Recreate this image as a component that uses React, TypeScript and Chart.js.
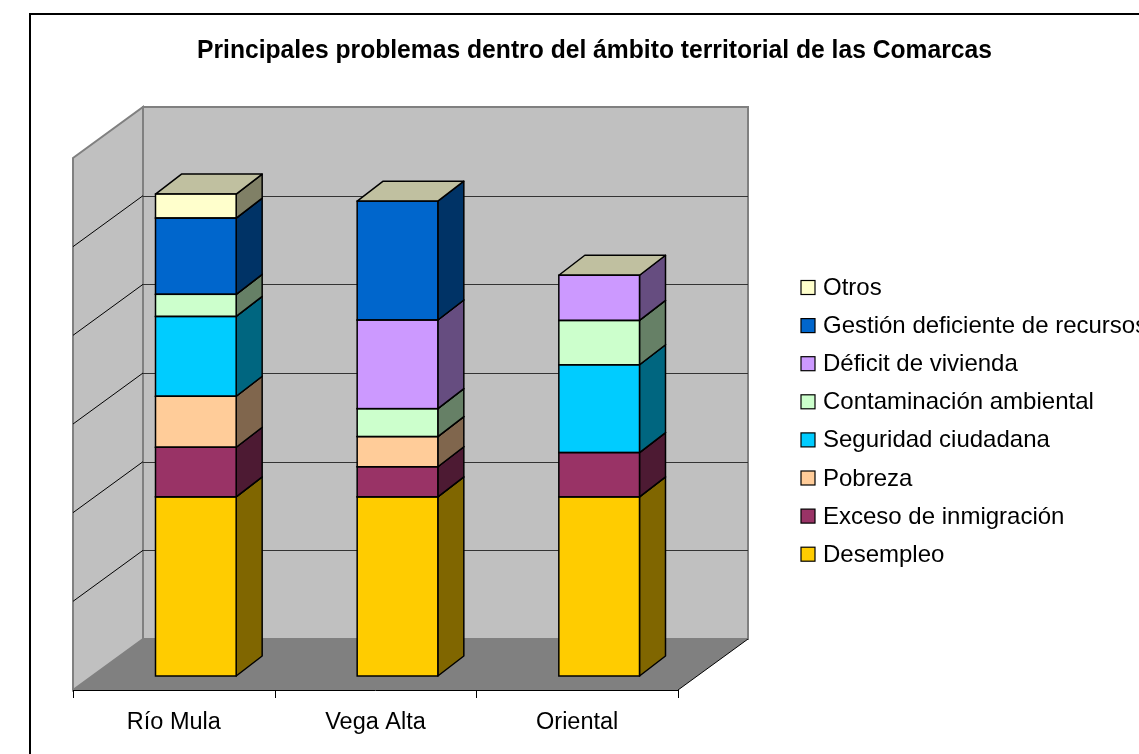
import React, { useEffect, useRef } from "react";
import { Chart, registerables } from "chart.js";

Chart.register(...registerables);

// ---------- data ----------
const categories = ["Río Mula", "Vega Alta", "Oriental"];
const seriesNames = [
  "Desempleo",
  "Exceso de inmigración",
  "Pobreza",
  "Seguridad ciudadana",
  "Contaminación ambiental",
  "Déficit de vivienda",
  "Gestión deficiente de recursos",
  "Otros",
];
const desempleo = [20.2, 20.2, 20.2];
const excesoInmigracion = [5.6, 3.4, 5.0];
const pobreza = [5.75, 3.4, 0];
const seguridadCiudadana = [9.0, 0, 9.9];
const contaminacionAmbiental = [2.5, 3.15, 5.0];
const deficitVivienda = [0, 10.0, 5.1];
const gestionRecursos = [8.6, 13.4, 0];
const otros = [2.7, 0, 0];
const seriesValues = [
  desempleo,
  excesoInmigracion,
  pobreza,
  seguridadCiudadana,
  contaminacionAmbiental,
  deficitVivienda,
  gestionRecursos,
  otros,
];
const frontColors = [
  "#FFCC00",
  "#993366",
  "#FFCC99",
  "#00CCFF",
  "#CCFFCC",
  "#CC99FF",
  "#0066CC",
  "#FFFFCC",
];
const chartTitle = "Principales problemas dentro del ámbito territorial de las Comarcas";
const yMax = 60;
const gridStep = 10;

// ---------- style constants ----------
const FONT = "'Liberation Sans', Arial, Helvetica, sans-serif";
const BAR_DX = 26;
const BAR_DY = 20;
const SHIFT_X = 22;
const SHIFT_Y = 14;
const WALL_DX = 70;
const WALL_DY = 51;
const TOP_COLOR = "#C0C0A0";

function halve(hex: string): string {
  const n = parseInt(hex.slice(1), 16);
  const r = Math.round(((n >> 16) & 255) / 2);
  const g = Math.round(((n >> 8) & 255) / 2);
  const b = Math.round((n & 255) / 2);
  return `rgb(${r},${g},${b})`;
}

function poly(ctx: CanvasRenderingContext2D, pts: number[][]) {
  ctx.beginPath();
  ctx.moveTo(pts[0][0], pts[0][1]);
  for (let i = 1; i < pts.length; i++) ctx.lineTo(pts[i][0], pts[i][1]);
  ctx.closePath();
}

const scenePlugin = {
  id: "scene3d",
  beforeDraw(chart: any) {
    const { ctx, chartArea } = chart;
    const xs = chart.scales.x;
    const ys = chart.scales.y;
    ctx.save();
    ctx.fillStyle = "#ffffff";
    ctx.fillRect(0, 0, chart.width, chart.height);

    // outer border
    ctx.strokeStyle = "#000";
    ctx.lineWidth = 2;
    ctx.strokeRect(30, 14, chart.width + 40, chart.height + 40);

    // title (slightly widened like the original)
    ctx.fillStyle = "#000";
    ctx.font = `bold 25px ${FONT}`;
    ctx.textAlign = "left";
    ctx.textBaseline = "alphabetic";
    const tw = ctx.measureText(chartTitle).width;
    const targetW = 795;
    ctx.save();
    ctx.translate(197, 58);
    ctx.scale(targetW / tw, 1);
    ctx.fillText(chartTitle, 0, 0);
    ctx.restore();

    const fl = chartArea.left - SHIFT_X;
    const fr = chartArea.right - SHIFT_X;
    const fb = ys.getPixelForValue(0) + SHIFT_Y;
    const ft = ys.getPixelForValue(yMax) + SHIFT_Y;
    const bl = fl + WALL_DX;
    const br = fr + WALL_DX;
    const bb = fb - WALL_DY;
    const bt = ft - WALL_DY;

    // floor
    ctx.fillStyle = "#808080";
    poly(ctx, [[fl, fb], [bl, bb], [br, bb], [fr, fb]]);
    ctx.fill();

    // left wall
    ctx.fillStyle = "#C0C0C0";
    poly(ctx, [[fl, ft], [bl, bt], [bl, bb], [fl, fb]]);
    ctx.fill();
    ctx.strokeStyle = "#808080";
    ctx.lineWidth = 2;
    ctx.stroke();

    // back wall
    ctx.fillStyle = "#C0C0C0";
    ctx.fillRect(bl, bt, br - bl, bb - bt);
    ctx.strokeRect(bl, bt, br - bl, bb - bt);

    // gridlines
    ctx.lineWidth = 1;
    for (let v = gridStep; v < yMax; v += gridStep) {
      const py = ys.getPixelForValue(v) + SHIFT_Y;
      const pb = Math.round(py - WALL_DY) + 0.5;
      ctx.strokeStyle = "#333";
      ctx.beginPath();
      ctx.moveTo(bl, pb);
      ctx.lineTo(br, pb);
      ctx.stroke();
      ctx.strokeStyle = "#000";
      ctx.beginPath();
      ctx.moveTo(fl, py);
      ctx.lineTo(bl, py - WALL_DY);
      ctx.stroke();
    }

    // floor edges & axis
    ctx.strokeStyle = "#000";
    ctx.lineWidth = 1;
    ctx.beginPath();
    ctx.moveTo(fl, Math.round(fb) + 0.5);
    ctx.lineTo(fr, Math.round(fb) + 0.5);
    ctx.moveTo(fr, fb);
    ctx.lineTo(br, bb);
    ctx.stroke();
    const catW = xs.getPixelForValue(1) - xs.getPixelForValue(0);
    ctx.beginPath();
    for (let k = 0; k <= categories.length; k++) {
      const tx = Math.round(xs.getPixelForValue(0) - catW / 2 - SHIFT_X + k * catW) + 0.5;
      ctx.moveTo(tx, fb);
      ctx.lineTo(tx, fb + 8);
    }
    ctx.stroke();

    // category labels
    ctx.fillStyle = "#000";
    ctx.font = `23.5px ${FONT}`;
    ctx.textAlign = "center";
    categories.forEach((c, i) => {
      ctx.fillText(c, xs.getPixelForValue(i) - SHIFT_X, fb + 39);
    });

    // legend (reverse order)
    ctx.textAlign = "left";
    ctx.font = `24px ${FONT}`;
    const order = seriesNames.map((_, i) => i).reverse();
    order.forEach((si, row) => {
      const base = 295 + row * 38.1;
      ctx.fillStyle = frontColors[si];
      ctx.fillRect(801, base - 14.5, 14, 14);
      ctx.strokeStyle = "#000";
      ctx.lineWidth = 1.2;
      ctx.strokeRect(801, base - 14.5, 14, 14);
      ctx.fillStyle = "#000";
      ctx.fillText(seriesNames[si], 823, base);
    });
    ctx.restore();
  },
  beforeDatasetsDraw(chart: any) {
    const { ctx } = chart;
    ctx.save();
    ctx.strokeStyle = "#000";
    ctx.lineWidth = 1.5;
    ctx.lineJoin = "round";
    chart.data.datasets.forEach((ds: any, di: number) => {
      const meta = chart.getDatasetMeta(di);
      meta.data.forEach((el: any, j: number) => {
        if (!ds.data[j]) return;
        const { x, y, base, width } = el.getProps(["x", "y", "base", "width"], true);
        const l = x - width / 2;
        const r = x + width / 2;
        const t = Math.min(y, base);
        const b = Math.max(y, base);
        ctx.fillStyle = halve(frontColors[di]);
        poly(ctx, [[r, b], [r + BAR_DX, b - BAR_DY], [r + BAR_DX, t - BAR_DY], [r, t]]);
        ctx.fill();
        ctx.stroke();
        ctx.fillStyle = TOP_COLOR;
        poly(ctx, [[l, t], [r, t], [r + BAR_DX, t - BAR_DY], [l + BAR_DX, t - BAR_DY]]);
        ctx.fill();
        ctx.stroke();
      });
    });
    ctx.restore();
  },
  afterDatasetsDraw(chart: any) {
    const { ctx } = chart;
    ctx.save();
    ctx.strokeStyle = "#000";
    ctx.lineWidth = 1.5;
    chart.data.datasets.forEach((ds: any, di: number) => {
      const meta = chart.getDatasetMeta(di);
      meta.data.forEach((el: any, j: number) => {
        if (!ds.data[j]) return;
        const { x, y, base, width } = el.getProps(["x", "y", "base", "width"], true);
        const t = Math.min(y, base);
        const b = Math.max(y, base);
        ctx.strokeRect(x - width / 2, t, width, b - t);
      });
    });
    ctx.restore();
  },
};

export default function App() {
  const canvasRef = useRef<HTMLCanvasElement | null>(null);

  useEffect(() => {
    const canvas = canvasRef.current;
    if (!canvas) return;
    const chart = new Chart(canvas, {
      type: "bar",
      data: {
        labels: categories,
        datasets: seriesNames.map((name, i) => ({
          label: name,
          data: seriesValues[i],
          backgroundColor: frontColors[i],
          borderWidth: 0,
          barPercentage: 0.4,
          categoryPercentage: 1,
        })),
      },
      options: {
        responsive: false,
        animation: false,
        devicePixelRatio: 1,
        events: [],
        layout: { padding: { left: 95, right: 439, top: 144, bottom: 78 } },
        scales: {
          x: { stacked: true, display: false },
          y: { stacked: true, display: false, min: 0, max: yMax },
        },
        plugins: {
          legend: { display: false },
          title: { display: false },
          tooltip: { enabled: false },
        },
      },
      plugins: [scenePlugin],
    });
    return () => chart.destroy();
  }, []);

  return (
    <div style={{ position: "absolute", left: 0, top: 0, width: 1139, height: 754 }}>
      <canvas ref={canvasRef} width={1139} height={754} style={{ display: "block", width: 1139, height: 754 }} />
    </div>
  );
}
